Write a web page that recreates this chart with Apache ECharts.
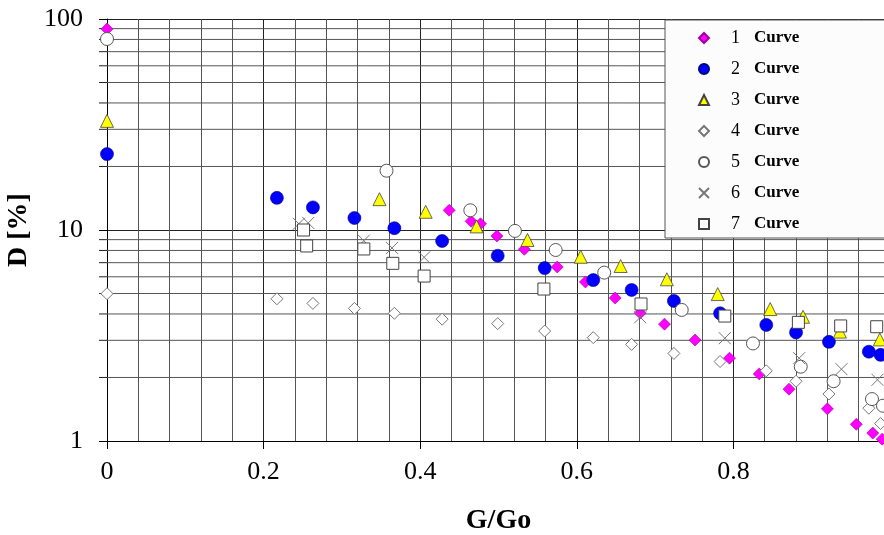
<!DOCTYPE html>
<html>
<head>
<meta charset="utf-8">
<style>
  html, body { margin: 0; padding: 0; background: #fff; }
  #chart { width: 884px; height: 535px; }
</style>
<script src="https://cdn.jsdelivr.net/npm/echarts@6/dist/echarts.min.js"></script>
</head>
<body>
<div id="chart"></div>
<script>
// Relative damage D [%] versus G/Go for seven curves
const curveNames = ['1', '2', '3', '4', '5', '6', '7'];

const xs1 = [0, 0.437, 0.465, 0.477, 0.498, 0.533, 0.575, 0.611, 0.649, 0.681, 0.712, 0.751, 0.795, 0.833, 0.871, 0.920, 0.957, 0.978, 0.990];
const ys1 = [89.7, 12.4, 11.0, 10.7, 9.37, 8.1, 6.68, 5.67, 4.76, 4.04, 3.58, 3.01, 2.47, 2.08, 1.76, 1.42, 1.20, 1.09, 1.02];

const xs2 = [0, 0.217, 0.263, 0.316, 0.367, 0.428, 0.499, 0.559, 0.621, 0.670, 0.724, 0.783, 0.842, 0.880, 0.922, 0.973, 0.988];
const ys2 = [22.9, 14.2, 12.8, 11.4, 10.2, 8.87, 7.55, 6.60, 5.79, 5.20, 4.61, 4.03, 3.55, 3.27, 2.95, 2.65, 2.56];

const xs3 = [0, 0.348, 0.407, 0.472, 0.537, 0.605, 0.656, 0.715, 0.780, 0.847, 0.889, 0.936, 0.987];
const ys3 = [32.9, 14.0, 12.2, 10.4, 8.97, 7.47, 6.75, 5.84, 4.97, 4.22, 3.88, 3.30, 3.03];

const xs4 = [0, 0.217, 0.263, 0.316, 0.367, 0.428, 0.499, 0.559, 0.621, 0.670, 0.724, 0.783, 0.842, 0.880, 0.922, 0.973, 0.988];
const ys4 = [4.99, 4.72, 4.49, 4.25, 4.03, 3.78, 3.60, 3.32, 3.09, 2.87, 2.60, 2.38, 2.15, 1.92, 1.67, 1.43, 1.21];

const xs5 = [0, 0.357, 0.464, 0.521, 0.573, 0.635, 0.734, 0.825, 0.886, 0.928, 0.977, 0.991];
const ys5 = [80.4, 19.1, 12.4, 9.90, 8.04, 6.28, 4.18, 2.90, 2.25, 1.92, 1.58, 1.47];

const xs6 = [0.245, 0.257, 0.328, 0.364, 0.405, 0.681, 0.789, 0.884, 0.938, 0.984];
const ys6 = [10.7, 10.8, 8.9, 8.22, 7.42, 3.86, 3.07, 2.47, 2.19, 1.95];

const xs7 = [0.251, 0.255, 0.328, 0.365, 0.405, 0.558, 0.682, 0.789, 0.883, 0.937, 0.983];
const ys7 = [10.0, 8.40, 8.13, 6.95, 6.05, 5.25, 4.46, 3.91, 3.65, 3.51, 3.48];

// Intermediate horizontal grid levels of the log axis (2..9 per decade)
const logGridLevels = [2, 3, 4, 5, 6, 7, 8, 9, 20, 30, 40, 50, 60, 70, 80, 90];

const serif = "'Liberation Serif', 'Times New Roman', serif";
const pairs = (xs, ys) => xs.map((x, i) => [x, ys[i]]);

const crossPath = 'path://M0,0L10,10M10,0L0,10';

const styles = [
  { symbol: 'diamond', size: 12, itemStyle: { color: '#ff00ff', borderColor: '#a000a0', borderWidth: 0.6, opacity: 1 } },
  { symbol: 'circle', size: 13, itemStyle: { color: '#0000ff', borderColor: '#000080', borderWidth: 0.6, opacity: 1 } },
  { symbol: 'triangle', size: 13, itemStyle: { color: '#ffff00', borderColor: '#444', borderWidth: 0.8, opacity: 1 } },
  { symbol: 'diamond', size: 12, itemStyle: { color: '#fff', borderColor: '#777', borderWidth: 1, opacity: 1 } },
  { symbol: 'circle', size: 13, itemStyle: { color: '#fff', borderColor: '#555', borderWidth: 1, opacity: 1 } },
  { symbol: crossPath, size: 12, itemStyle: { color: 'transparent', borderColor: '#777', borderWidth: 1, opacity: 1 } },
  { symbol: 'rect', size: 12, itemStyle: { color: '#fff', borderColor: '#444', borderWidth: 1, opacity: 1 } }
];

const seriesData = [pairs(xs1, ys1), pairs(xs2, ys2), pairs(xs3, ys3), pairs(xs4, ys4),
                    pairs(xs5, ys5), pairs(xs6, ys6), pairs(xs7, ys7)];

const chart = echarts.init(document.getElementById('chart'), null, { renderer: 'canvas' });

const scatterSeries = curveNames.map((name, i) => ({
  name: name,
  type: 'scatter',
  data: seriesData[i],
  symbol: styles[i].symbol,
  symbolSize: styles[i].size,
  itemStyle: styles[i].itemStyle,
  emphasis: { disabled: true },
  z: 10 + i
}));

// Minor horizontal grid lines with their outward tick marks
const gridSeries = {
  name: 'logGrid',
  type: 'custom',
  clip: false,
  silent: true,
  z: 1,
  data: logGridLevels.map(v => [0, v]),
  encode: { x: 0, y: 1 },
  renderItem: function (params, api) {
    const v = api.value(1);
    const p0 = api.coord([0, v]);
    const p1 = api.coord([1, v]);
    return {
      type: 'group',
      children: [
        { type: 'line', shape: { x1: p0[0], y1: p0[1], x2: p1[0], y2: p1[1] },
          style: { stroke: '#555', lineWidth: 1 } },
        { type: 'line', shape: { x1: p0[0] - 8, y1: p0[1], x2: p0[0], y2: p0[1] },
          style: { stroke: '#222', lineWidth: 1 } }
      ]
    };
  }
};

chart.setOption({
  animation: false,
  backgroundColor: '#fff',
  grid: { left: 107, top: 19, width: 783, height: 422, containLabel: false, outerBoundsMode: 'none' },
  legend: {
    orient: 'vertical',
    left: 665,
    top: 20,
    data: curveNames.map((n, i) => ({ name: n, icon: styles[i].symbol })),
    itemWidth: 10,
    itemHeight: 10,
    itemGap: 11,
    padding: [8, 160, 4, 33],
    backgroundColor: '#fcfcfc',
    borderColor: '#555',
    borderWidth: 1,
    formatter: function (name) { return '{n|' + name + '}{c|Curve}'; },
    textStyle: {
      fontFamily: serif,
      color: '#000',
      height: 20,
      lineHeight: 20,
      rich: {
        n: { fontFamily: serif, fontSize: 18, color: '#000', padding: [0, 0, 0, 17], width: 9, height: 20, lineHeight: 20 },
        c: { fontFamily: serif, fontSize: 17, fontWeight: 'bold', color: '#000', padding: [0, 0, 0, 14], height: 20, lineHeight: 20 }
      }
    }
  },
  xAxis: {
    type: 'value',
    min: 0,
    max: 1,
    interval: 0.2,
    name: 'G/Go',
    nameLocation: 'middle',
    nameGap: 66,
    nameTextStyle: { fontFamily: serif, fontSize: 28, fontWeight: 'bold', color: '#000' },
    axisLine: { show: true, onZero: false, lineStyle: { color: '#000', width: 1 } },
    axisTick: { show: true, inside: false, length: 8, lineStyle: { color: '#000' } },
    axisLabel: {
      fontFamily: serif, fontSize: 26, color: '#000', margin: 18,
      formatter: function (v) { return v >= 1 ? '' : String(+v.toFixed(1)); }
    },
    splitLine: { show: true, lineStyle: { color: '#222', width: 1 } },
    minorTick: { show: false, splitNumber: 5 },
    minorSplitLine: { show: true, lineStyle: { color: '#555', width: 1 } }
  },
  yAxis: {
    type: 'log',
    logBase: 10,
    min: 1,
    max: 100,
    name: 'D [%]',
    nameLocation: 'middle',
    nameGap: 63,
    nameTextStyle: { fontFamily: serif, fontSize: 28, fontWeight: 'bold', color: '#000' },
    axisLine: { show: true, onZero: false, lineStyle: { color: '#000', width: 1 } },
    axisTick: { show: true, inside: false, length: 8, lineStyle: { color: '#000' } },
    axisLabel: { fontFamily: serif, fontSize: 26, color: '#000', margin: 24 },
    splitLine: { show: true, lineStyle: { color: '#222', width: 1 } },
    minorTick: { show: false },
    minorSplitLine: { show: false }
  },
  series: [gridSeries].concat(scatterSeries)
});
</script>
</body>
</html>
